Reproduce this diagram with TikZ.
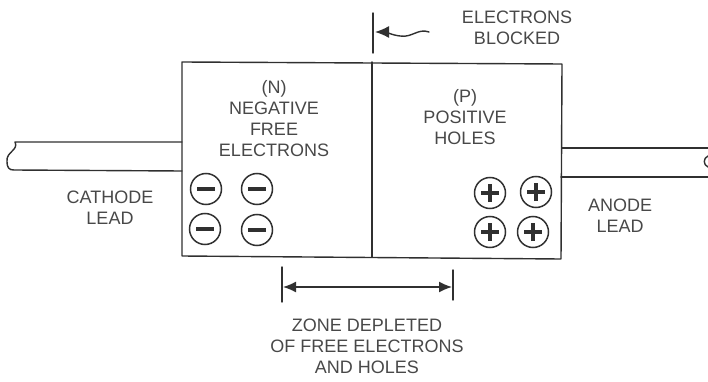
\documentclass[tikz,border=0pt]{standalone}
\usepackage{fontspec}
\setmainfont{Liberation Sans}
\usetikzlibrary{arrows.meta}
\definecolor{ink}{HTML}{303030}
\definecolor{txt}{HTML}{484848}
\tikzset{
  ln/.style={draw=ink, line width=1.4pt, line join=round, line cap=round},
  lbl/.style={text=txt, font=\fontsize{18}{21}\selectfont, align=center, inner sep=0pt, anchor=north},
  charge/.style={circle, draw=ink, line width=1.5pt, minimum size=31pt, inner sep=0pt},
  minus/.style={charge, path picture={\draw[ink, line width=3.2pt] ([xshift=-9pt]path picture bounding box.center) -- ([xshift=9pt]path picture bounding box.center);}},
  plus/.style={charge, path picture={\draw[ink, line width=3.8pt] ([xshift=-9pt]path picture bounding box.center) -- ([xshift=9pt]path picture bounding box.center) ([yshift=-9pt]path picture bounding box.center) -- ([yshift=9pt]path picture bounding box.center);}},
  tip/.style={-{Latex[length=14pt,width=12pt]}}
}
\begin{document}
\begin{tikzpicture}[x=1pt,y=-1pt]
\useasboundingbox (0,0) rectangle (708,382);
% box corners
\coordinate (tl) at (182,62);
\coordinate (tr) at (562,64);
\coordinate (br) at (561,259);
\coordinate (bl) at (182,256);
\coordinate (dt) at (372,62);
\coordinate (db) at (372,257);
\draw[ln] (tl) -- (tr) -- (br) -- (bl) -- cycle;
\draw[ln] (dt) -- (db);
% cathode lead
\coordinate (ct) at (182,142);
\coordinate (cb) at (182,171);
\draw[ln] (ct) -- (15,142) .. controls (19,150) and (6,152) .. (7,161) .. controls (7,168) and (9,170) .. (14,170) -- (cb);
% anode lead
\coordinate (at) at (562,148);
\coordinate (ab) at (561,177);
\draw[ln] (at) -- (708,148);
\draw[ln] (ab) -- (708,177);
\draw[ln] (708,156) .. controls (703,158) and (703,165) .. (708,167);
% electrons blocked marker
\coordinate (vt) at (373,13);
\coordinate (vb) at (373,53);
\draw[ln] (vt) -- (vb);
\coordinate (wtail) at (429,32);
\coordinate (wtip) at (375,32);
\draw[ln, tip] (wtail) .. controls (418,28) and (412,38) .. (400,36) .. controls (392,35) and (385,32) .. (wtip);
% zone depleted marker
\coordinate (zl1) at (282,267);
\coordinate (zl2) at (282,302);
\coordinate (zr1) at (453,270);
\coordinate (zr2) at (453,300);
\draw[ln] (zl1) -- (zl2);
\draw[ln] (zr1) -- (zr2);
\coordinate (zl) at (283,287);
\coordinate (zr) at (452,287);
\draw[ln, {Latex[length=13pt,width=11pt]}-{Latex[length=13pt,width=11pt]}] (zl) -- (zr);
% charges
\node[minus] (m1) at (206,189) {};
\node[minus] (m2) at (257,189) {};
\node[minus] (m3) at (205,229) {};
\node[minus] (m4) at (257,230) {};
\node[plus] (p1) at (490,193) {};
\node[plus] (p2) at (536,192) {};
\node[plus] (p3) at (490,232) {};
\node[plus] (p4) at (533,232) {};
% labels
\node[lbl] (eb) at (517,10.5) {ELECTRONS\\BLOCKED};
\node[lbl] (nl) at (274,80) {(N)\\NEGATIVE\\FREE\\ELECTRONS};
\node[lbl] (pl) at (465,89) {(P)\\POSITIVE\\HOLES};
\node[lbl] (cl) at (110,190.5) {CATHODE\\LEAD};
\node[lbl] (al) at (620,198.5) {ANODE\\LEAD};
\node[lbl] (zd) at (367,318.5) {ZONE DEPLETED\\OF FREE ELECTRONS\\AND HOLES};
\end{tikzpicture}
\end{document}
